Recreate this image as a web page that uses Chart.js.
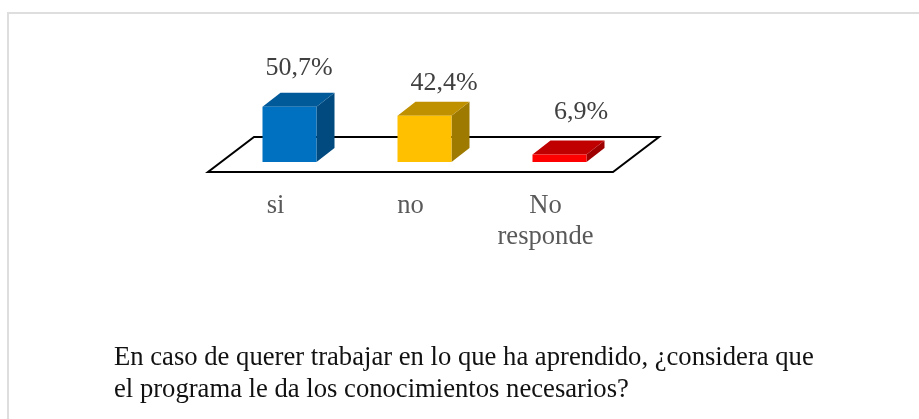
<!DOCTYPE html>
<html>
<head>
<meta charset="utf-8">
<style>
html, body { margin: 0; padding: 0; background: #fff; overflow: hidden; }
#wrap { position: relative; width: 919px; height: 419px; }
#frame { position: absolute; left: 7px; top: 12px; width: 920px; height: 420px; border: 2px solid #dedede; box-sizing: border-box; }
#chart { position: absolute; left: 0; top: 0; }
#caption { position: absolute; left: 114px; top: 340px; font: 26.65px/32px "Liberation Serif", serif; color: #111; white-space: nowrap; }
</style>
</head>
<body>
<div id="wrap">
    <div id="frame"></div>
    <canvas id="chart" width="919" height="419"></canvas>
    <div id="caption">En caso de querer trabajar en lo que ha aprendido, ¿considera que<br>el programa le da los conocimientos necesarios?</div>
</div>
<script src="https://cdn.jsdelivr.net/npm/chart.js@4"></script>
<script>
const categories = ['si', 'no', ['No', 'responde']];
const values = [50.7, 42.4, 6.9];
const frontColors = ['#0070c0', '#ffc000', '#ff0000'];
const topColors = ['#005a9a', '#bf9000', '#c00000'];
const sideColors = ['#004a7f', '#9e7a00', '#9e0000'];

const depthX = 18, depthY = 14;       // depth of a bar
const shiftX = 14, shiftY = 10;       // bars stand in the middle of the floor
const floorX = 46, floorY = 35;
const labelNudge = [[-8.5, -25], [1.5, -19], [3.5, -28]];

const cube3d = {
    id: 'cube3d',
    beforeDatasetsDraw(chart) {
        const c = chart.ctx, a = chart.chartArea;
        // floor
        c.save();
        c.beginPath();
        c.moveTo(a.left, a.bottom);
        c.lineTo(a.right, a.bottom);
        c.lineTo(a.right + floorX, a.bottom - floorY);
        c.lineTo(a.left + floorX, a.bottom - floorY);
        c.closePath();
        c.strokeStyle = '#000';
        c.lineWidth = 2;
        c.stroke();
        c.restore();
        c.save();
        c.translate(shiftX, -shiftY);
        // side and top faces come from the real bar rectangles
        chart.getDatasetMeta(0).data.forEach((bar, i) => {
            const p = bar.getProps(['x', 'y', 'base', 'width'], true);
            const l = p.x - p.width / 2, r = p.x + p.width / 2;
            c.fillStyle = sideColors[i];
            c.beginPath();
            c.moveTo(r, p.y);
            c.lineTo(r + depthX, p.y - depthY);
            c.lineTo(r + depthX, p.base - depthY);
            c.lineTo(r, p.base);
            c.closePath();
            c.fill();
            c.fillStyle = topColors[i];
            c.beginPath();
            c.moveTo(l, p.y);
            c.lineTo(l + depthX, p.y - depthY);
            c.lineTo(r + depthX, p.y - depthY);
            c.lineTo(r, p.y);
            c.closePath();
            c.fill();
        });
    },
    afterDatasetsDraw(chart) {
        const c = chart.ctx;
        c.restore();
        c.save();
        c.font = '26px "Liberation Serif", serif';
        c.fillStyle = '#404040';
        c.textAlign = 'center';
        c.textBaseline = 'middle';
        chart.getDatasetMeta(0).data.forEach((bar, i) => {
            const p = bar.getProps(['x', 'y'], true);
            const txt = values[i].toFixed(1).replace('.', ',') + '%';
            c.fillText(txt, p.x + shiftX + depthX + labelNudge[i][0], p.y - shiftY - depthY + labelNudge[i][1]);
        });
        c.restore();
    }
};

new Chart(document.getElementById('chart'), {
    type: 'bar',
    data: {
        labels: categories,
        datasets: [{
            data: values,
            backgroundColor: frontColors,
            barPercentage: 0.4,
            categoryPercentage: 1
        }]
    },
    options: {
        responsive: false,
        animation: false,
        layout: { padding: { left: 208, right: 306, top: 63, bottom: 167 } },
        plugins: { legend: { display: false }, tooltip: { enabled: false } },
        scales: {
            x: {
                grid: { display: false },
                border: { display: false },
                ticks: {
                    color: '#595959',
                    font: { family: '"Liberation Serif", serif', size: 26.6, lineHeight: 1.17 },
                    maxRotation: 0,
                    autoSkip: false,
                    padding: 10
                },
                afterFit(scale) { scale.height = 80; }
            },
            y: { display: false, min: 0, max: 100 }
        }
    },
    plugins: [cube3d]
});
</script>
</body>
</html>
